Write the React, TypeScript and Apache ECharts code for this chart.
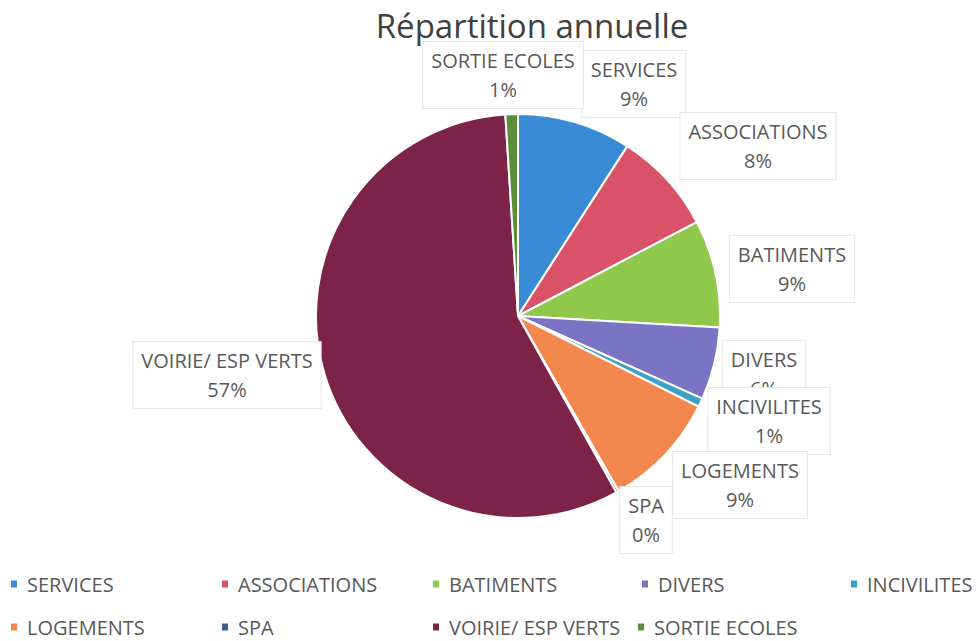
import React, { useEffect, useRef } from "react";
import * as echarts from "echarts";

const categories = [
  "SERVICES",
  "ASSOCIATIONS",
  "BATIMENTS",
  "DIVERS",
  "INCIVILITES",
  "LOGEMENTS",
  "SPA",
  "VOIRIE/ ESP VERTS",
  "SORTIE ECOLES",
];
const values = [9.1, 8.2, 8.6, 5.8, 0.7, 9.3, 0.2, 57.1, 1.0];
const colors = [
  "#3A8BD6",
  "#D95268",
  "#8FC84A",
  "#7B74C4",
  "#3AA3C4",
  "#F3884E",
  "#3F5E8A",
  "#7D2347",
  "#5C8D3A",
];
// label box centres (layout only)
const labelX = [634, 758, 792, 764, 769, 740, 646, 227, 503];
const labelY = [84, 146, 269, 374, 421, 485, 520, 375, 75];
// legend item positions (layout only)
const legendLeft = [9, 220, 431, 640, 849, 9, 220, 431, 636];
const legendTop = [574, 574, 574, 574, 574, 617, 617, 617, 617];

const FONT = "Open Sans";
const TEXT = "#595959";

export default function App() {
  const ref = useRef<HTMLDivElement>(null);
  useEffect(() => {
    document.body.style.margin = "0";
    const chart = echarts.init(ref.current!, null, { renderer: "svg" });
    chart.setOption({
      animation: false,
      color: colors,
      title: {
        text: "Répartition annuelle",
        left: 527,
        top: 4,
        textAlign: "center",
        textStyle: { fontFamily: FONT, fontSize: 33, fontWeight: "normal", color: "#404040" },
      },
      legend: categories.map((c, i) => ({
        left: legendLeft[i],
        top: legendTop[i],
        padding: 0,
        icon: "rect",
        itemWidth: 8,
        itemHeight: 9,
        selectedMode: false,
        data: [c],
        textStyle: {
          fontFamily: FONT,
          fontSize: 20,
          color: TEXT,
          padding: [0, 0, 0, 4],
        },
      })),
      series: [
        {
          type: "pie",
          center: [518, 316],
          radius: 202,
          startAngle: 90,
          clockwise: true,
          itemStyle: { borderColor: "#ffffff", borderWidth: 2 },
          labelLine: { show: false },
          label: {
            show: true,
            position: "outside",
            formatter: (p: any) => `${p.name}\n${Math.round(p.percent)}%`,
            fontFamily: FONT,
            fontSize: 20,
            lineHeight: 29,
            color: TEXT,
            align: "center",
            backgroundColor: "#ffffff",
            borderColor: "#E6E6E6",
            borderWidth: 1,
            padding: [4, 8],
          },
          labelLayout: (params: any) => ({
            x: labelX[params.dataIndex],
            y: labelY[params.dataIndex],
            align: "center",
            verticalAlign: "middle",
          }),
          data: categories.map((c, i) => ({ name: c, value: values[i] })),
        },
      ],
    });
    return () => chart.dispose();
  }, []);
  return <div ref={ref} style={{ width: 978, height: 641 }} />;
}
